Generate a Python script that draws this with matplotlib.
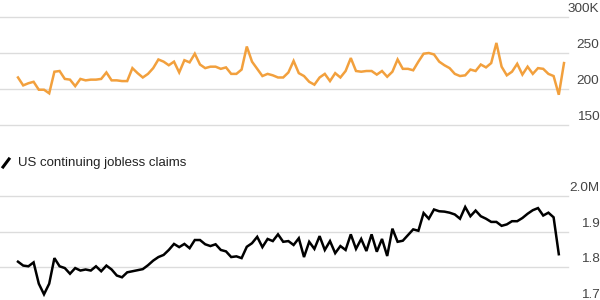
import matplotlib
matplotlib.use("Agg")
import matplotlib.pyplot as plt
import matplotlib.transforms as mtransforms
from matplotlib.lines import Line2D

# weekly values
initial_claims = [
    216, 205, 208, 210, 199, 199, 194, 224, 225, 214,
    213, 204, 214, 212, 213, 213, 214, 223, 212, 212,
    211, 211, 229, 222, 216, 221, 229, 241, 238, 233,
    238, 223, 240, 237, 249, 234, 229, 231, 231, 228,
    230, 221, 221, 227, 259, 238, 228, 218, 221, 219,
    216, 216, 223, 239, 222, 218, 210, 206, 216, 221,
    211, 222, 216, 225, 243, 225, 224, 225, 225, 220,
    225, 217, 224, 241, 228, 228, 226, 238, 249, 250,
    248, 238, 233, 229, 221, 218, 219, 227, 225, 234,
    230, 236, 264, 231, 219, 224, 235, 220, 231, 221,
    229, 228, 221, 218, 192, 236,
]
continuing_claims = [
    1.815, 1.804, 1.802, 1.813, 1.753, 1.723, 1.753, 1.825, 1.802, 1.797,
    1.781, 1.797, 1.790, 1.793, 1.790, 1.802, 1.788, 1.804, 1.793, 1.776,
    1.771, 1.785, 1.788, 1.791, 1.794, 1.805, 1.818, 1.828, 1.834, 1.848,
    1.865, 1.856, 1.865, 1.853, 1.876, 1.876, 1.864, 1.859, 1.864, 1.848,
    1.844, 1.828, 1.830, 1.825, 1.857, 1.867, 1.885, 1.856, 1.879, 1.873,
    1.892, 1.871, 1.873, 1.862, 1.881, 1.828, 1.871, 1.851, 1.887, 1.848,
    1.873, 1.839, 1.859, 1.848, 1.892, 1.851, 1.879, 1.845, 1.892, 1.843,
    1.879, 1.831, 1.908, 1.871, 1.874, 1.890, 1.906, 1.902, 1.952, 1.936,
    1.962, 1.957, 1.956, 1.953, 1.948, 1.936, 1.969, 1.943, 1.959, 1.943,
    1.936, 1.927, 1.927, 1.916, 1.920, 1.929, 1.929, 1.938, 1.950, 1.960,
    1.966, 1.945, 1.953, 1.940, 1.836,
]
top_ticks = [150, 200, 250, 300]
top_labels = ["150", "200", "250", "300K"]
bottom_ticks = [1.7, 1.8, 1.9, 2.0]
bottom_labels = ["1.7", "1.8", "1.9", "2.0M"]
legend_label = "US continuing jobless claims"

plt.rcParams["font.family"] = ["Liberation Sans", "DejaVu Sans"]

W, H = 600, 300
fig = plt.figure(figsize=(6, 3), dpi=100)
fig.patch.set_facecolor("white")


def px_axes(left, top, right, bottom):
    return fig.add_axes([left / W, 1 - bottom / H, (right - left) / W, (bottom - top) / H])


ax1 = px_axes(0, 17, 568, 125)
ax2 = px_axes(0, 196, 568, 302.5)

n_top = len(initial_claims)
xlim = (-18 / 5.2, (568 - 18) / 5.2)

ax1.plot(range(n_top), initial_claims, color="#F2A03D", lw=1.8, solid_joinstyle="miter", zorder=3)
ax2.plot(range(len(continuing_claims)), continuing_claims, color="black", lw=1.8,
         solid_joinstyle="miter", zorder=3)

for ax, ticks, labels in [(ax1, top_ticks, top_labels), (ax2, bottom_ticks, bottom_labels)]:
    ax.set_xlim(*xlim)
    ax.set_ylim(ticks[0], ticks[-1])
    ax.axis("off")
    trans = mtransforms.blended_transform_factory(fig.transFigure, ax.transData)
    for t, lab in zip(ticks, labels):
        ax.axhline(t, color="#dcdcdc", lw=1, clip_on=False, zorder=1)
        ax.annotate(lab, xy=(0.999, t), xycoords=trans, xytext=(0, 3.5),
                    textcoords="offset points", ha="right", va="baseline",
                    fontsize=9.7, color="#444444", annotation_clip=False)

# legend for the lower panel
fig.add_artist(Line2D([3 / W, 9 / W], [1 - 167 / H, 1 - 159 / H], color="black", lw=2.2,
                      transform=fig.transFigure))
fig.text(18 / W, 1 - 163 / H, legend_label, va="center", ha="left", fontsize=9.5, color="#222222")

fig.savefig("out.png", dpi=100)
